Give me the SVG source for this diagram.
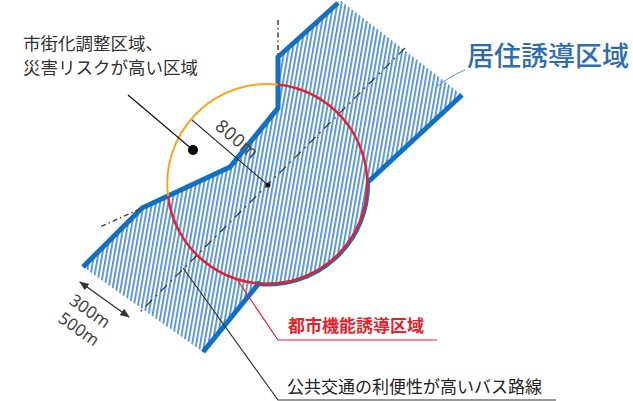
<svg xmlns="http://www.w3.org/2000/svg" width="633" height="401" viewBox="0 0 633 401">
<style>
.jp{font-family:"Noto Sans CJK JP","Noto Sans",sans-serif}
.lat{font-family:"Noto Sans","Liberation Sans",sans-serif}
.edge{fill:none;stroke:#1170c4;stroke-width:5;stroke-linejoin:miter}
.lead{fill:none;stroke-width:1.2}
</style>
<defs>
<pattern id="stripes" width="4" height="4" patternUnits="userSpaceOnUse" patternTransform="rotate(10)">
<rect width="4" height="4" fill="#ffffff"/>
<rect width="1.8" height="4" fill="#4f90cf"/>
</pattern>
<marker id="ah" viewBox="0 0 10 10" refX="9" refY="5" markerWidth="7" markerHeight="7" orient="auto-start-reverse">
<path d="M0,1 L10,5 L0,9 z" fill="#333"/>
</marker>
</defs>
<rect width="633" height="401" fill="#ffffff"/>
<g id="residential-area">
<path d="M340,0 L462,95 L368,182 A100,100 0 0 1 258,284 L203,352 L83,267 L142,208 L230,167 L278,108 L278,57 Z" fill="url(#stripes)"/>
<path class="edge" d="M338,3 L278,57 L278,108 L230,167 L142,208 L83,267"/>
<path class="edge" d="M462,95 L368,182"/>
<path class="edge" d="M260,282 L203,352"/>
<path d="M368,182 A100,100 0 0 1 258,284" fill="none" stroke="#1a6fc0" stroke-width="4"/>
<line x1="278" y1="20" x2="278" y2="55" stroke="#444" stroke-width="1.5" stroke-dasharray="5 3 1.5 3"/>
<line x1="140" y1="209" x2="100" y2="227" stroke="#444" stroke-width="1.5" stroke-dasharray="5 3 1.5 3"/>
<line x1="405" y1="48" x2="140" y2="312" stroke="#333" stroke-width="1.2" stroke-dasharray="9 5 2 5"/>
</g>
<g id="urban-function-circle">
<path d="M278,84.5 A100,100 0 0 0 168,196" fill="none" stroke="#f5a623" stroke-width="2"/>
<path d="M278,84.5 A100,100 0 1 1 168,196" fill="none" stroke="#e3222b" stroke-width="2.5"/>
<line x1="192" y1="120" x2="268" y2="185" stroke="#333" stroke-width="1.2"/>
<circle cx="268" cy="185" r="2.5" fill="#111"/>
<text class="lat" font-size="18" fill="#444" letter-spacing="0.5" transform="translate(214,128) rotate(40)">800m</text>
</g>
<g id="connectors">
<line class="lead" x1="128" y1="95" x2="193" y2="150" stroke="#111"/>
<path class="lead" d="M465,70 Q450,76 435,88" stroke="#6fa8dc" stroke-width="1.5"/>
<path class="lead" d="M238,281 L278,340 L437,340" stroke="#e3222b"/>
<path class="lead" d="M183,268 L278,400 L556,400" stroke="#333"/>
<line x1="80" y1="282" x2="129" y2="317" stroke="#333" stroke-width="1.4" marker-start="url(#ah)" marker-end="url(#ah)"/>
</g>
<g id="label-urbanization-control">
<text class="jp" font-size="17.5" fill="#333" x="23" y="50">市街化調整区域、</text>
<text class="jp" font-size="17.5" fill="#333" x="23" y="74">災害リスクが高い区域</text>
<circle cx="193" cy="150" r="5" fill="#000"/>
</g>
<g id="label-residential">
<text class="jp" font-size="27" font-weight="500" fill="#2e6db0" x="467" y="66">居住誘導区域</text>
</g>
<g id="label-urban-function">
<text class="jp" font-size="17" font-weight="bold" fill="#e3222b" x="288" y="332">都市機能誘導区域</text>
</g>
<g id="label-bus">
<text class="jp" font-size="17" fill="#222" x="287" y="393">公共交通の利便性が高いバス路線</text>
</g>
<g id="label-distance">
<text class="lat" font-size="17" fill="#444" transform="translate(68,303) rotate(35)">300m</text>
<text class="lat" font-size="17" fill="#444" transform="translate(57,321) rotate(35)">500m</text>
</g>
</svg>
